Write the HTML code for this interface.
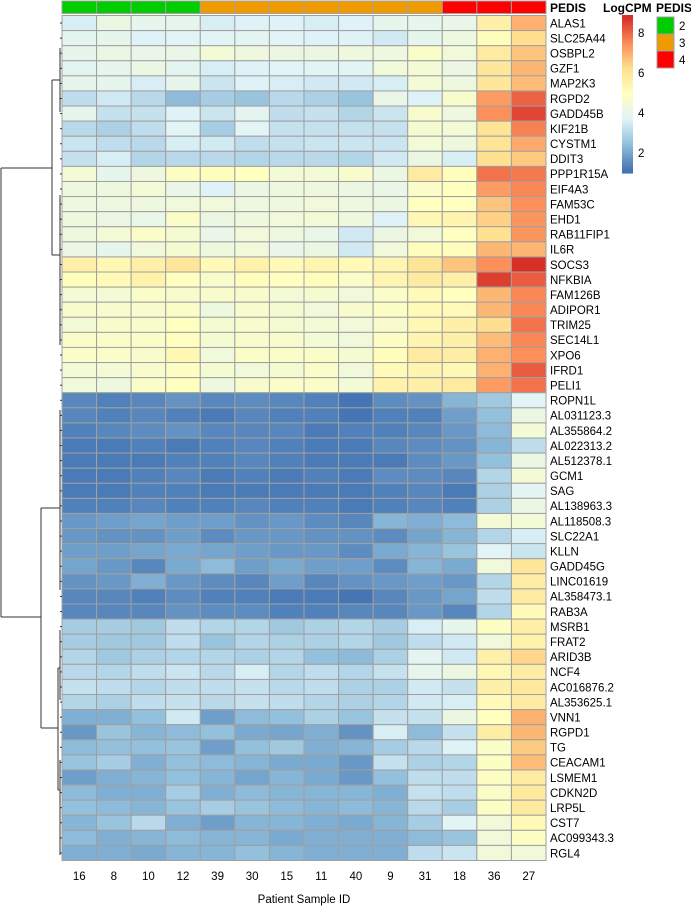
<!DOCTYPE html>
<html><head><meta charset="utf-8"><style>
body{margin:0;background:#fff;}
svg{display:block;font-family:"Liberation Sans",sans-serif;}
</style></head><body>
<svg id="chart" width="691" height="918" xmlns="http://www.w3.org/2000/svg"></svg>
<script>
const samples=["16","8","10","12","39","30","15","11","40","9","31","18","36","27"];
const pedis=[2,2,2,2,3,3,3,3,3,3,3,4,4,4];
const genes=["ALAS1","SLC25A44","OSBPL2","GZF1","MAP2K3","RGPD2","GADD45B","KIF21B","CYSTM1","DDIT3","PPP1R15A","EIF4A3","FAM53C","EHD1","RAB11FIP1","IL6R","SOCS3","NFKBIA","FAM126B","ADIPOR1","TRIM25","SEC14L1","XPO6","IFRD1","PELI1","ROPN1L","AL031123.3","AL355864.2","AL022313.2","AL512378.1","GCM1","SAG","AL138963.3","AL118508.3","SLC22A1","KLLN","GADD45G","LINC01619","AL358473.1","RAB3A","MSRB1","FRAT2","ARID3B","NCF4","AC016876.2","AL353625.1","VNN1","RGPD1","TG","CEACAM1","LSMEM1","CDKN2D","LRP5L","CST7","AC099343.3","RGL4"];
const values=[
[3.6,4.2,4.0,4.0,3.6,3.7,3.7,3.6,3.7,4.0,4.0,4.1,5.6,7.0],
[3.9,4.0,3.7,3.8,3.8,3.9,3.8,3.7,3.7,3.5,4.0,4.3,5.1,6.3],
[4.0,4.2,4.1,4.1,4.5,4.3,4.2,4.2,4.3,4.3,4.8,4.4,5.8,6.7],
[3.9,4.0,4.2,3.9,3.6,3.7,3.8,3.8,3.8,4.4,4.5,4.2,6.0,6.9],
[4.0,4.0,3.6,4.0,3.4,3.7,3.6,3.5,3.5,3.6,4.5,4.3,6.0,6.8],
[3.2,3.5,3.1,2.4,2.8,2.6,3.1,2.9,2.6,4.1,3.7,4.7,7.3,8.1],
[4.0,3.3,3.3,3.7,3.4,3.9,3.2,3.3,3.0,3.4,4.7,4.3,7.5,8.5],
[3.1,2.9,3.2,3.8,2.8,3.8,3.3,3.3,3.3,3.3,4.6,4.5,6.1,7.7],
[3.4,3.2,3.1,3.6,3.5,3.2,3.3,3.4,3.4,3.4,4.5,4.3,6.1,7.1],
[3.3,3.6,3.0,3.1,3.1,3.0,3.1,3.1,3.0,3.5,4.2,3.6,6.2,6.6],
[4.5,4.0,4.3,4.9,5.1,5.0,4.5,4.5,4.7,4.2,5.8,5.1,7.9,7.8],
[4.3,4.3,4.5,4.1,3.7,4.2,4.3,4.3,4.2,4.1,4.8,5.0,7.3,7.6],
[4.3,4.3,4.3,4.4,4.4,4.3,4.3,4.4,4.3,4.2,5.0,5.0,6.7,7.5],
[4.3,4.2,4.1,4.8,4.2,4.3,4.4,4.5,4.3,3.7,5.3,5.4,6.5,7.4],
[4.3,4.5,4.8,4.6,4.1,4.4,4.3,4.1,3.5,4.2,4.4,5.0,6.2,7.4],
[4.2,4.0,4.4,4.6,4.3,4.4,4.1,4.2,3.5,4.4,5.1,5.1,6.9,6.9],
[5.6,5.3,5.6,6.0,5.2,5.5,5.2,5.4,5.2,5.4,6.1,6.7,7.5,8.8],
[5.1,5.2,5.5,5.0,4.7,5.1,5.0,5.1,4.8,5.4,5.8,5.6,8.6,8.2],
[4.5,4.5,4.8,4.7,4.7,4.7,4.5,4.6,4.4,4.8,5.2,5.0,6.9,7.6],
[4.7,4.7,4.7,4.8,4.3,4.7,4.6,4.4,4.7,4.9,5.2,5.2,6.9,7.6],
[4.5,4.7,4.7,5.0,4.6,4.7,4.6,4.5,4.4,4.7,5.3,5.6,6.3,7.9],
[4.8,4.8,4.8,5.0,4.6,4.7,4.7,4.5,4.4,4.9,5.4,5.6,6.8,7.6],
[4.8,4.8,4.7,5.3,4.4,4.8,4.8,4.8,4.6,5.1,5.8,5.7,7.0,7.5],
[4.5,4.5,4.7,4.9,4.6,4.4,4.6,4.8,4.4,5.2,5.4,5.3,7.0,8.2],
[4.4,4.3,4.8,5.0,4.3,4.7,4.8,4.8,4.5,5.5,5.6,5.8,7.3,7.9],
[1.5,1.4,1.5,1.7,1.5,1.6,1.5,1.4,1.2,1.6,1.7,2.3,2.7,3.8],
[1.5,1.4,1.5,1.4,1.3,1.5,1.4,1.4,1.2,1.4,1.4,1.9,2.5,4.2],
[1.4,1.5,1.6,1.7,1.5,1.5,1.5,1.3,1.4,1.4,1.5,1.8,2.4,4.5],
[1.3,1.3,1.4,1.3,1.4,1.5,1.4,1.3,1.3,1.5,1.6,1.7,2.3,3.2],
[1.3,1.3,1.3,1.4,1.4,1.5,1.4,1.3,1.3,1.3,1.6,1.8,2.5,4.2],
[1.3,1.3,1.4,1.5,1.3,1.4,1.3,1.4,1.3,1.6,1.6,1.5,3.0,4.5],
[1.3,1.3,1.4,1.4,1.3,1.3,1.3,1.3,1.3,1.4,1.5,1.3,2.9,3.9],
[1.4,1.4,1.5,1.4,1.4,1.5,1.4,1.4,1.3,1.4,1.5,1.4,2.9,4.2],
[1.8,1.9,2.0,1.9,1.9,1.7,1.8,1.6,1.5,2.3,2.2,2.4,4.5,4.5],
[1.8,1.7,1.7,1.9,1.6,1.8,1.8,1.7,1.7,1.6,2.0,2.3,3.0,3.6],
[1.9,1.9,2.0,2.1,2.0,1.9,1.8,1.8,1.6,2.1,2.3,2.6,3.8,3.4],
[2.0,1.8,1.5,2.1,2.4,1.9,2.1,1.9,1.9,1.6,2.3,2.1,4.4,6.0],
[1.7,1.8,2.2,1.8,1.6,1.5,1.9,1.5,1.7,1.8,1.9,1.8,3.0,5.7],
[1.5,1.5,1.4,1.6,1.4,1.4,1.3,1.3,1.2,1.5,1.8,2.0,3.2,5.8],
[1.5,1.5,1.5,1.7,1.6,1.6,1.4,1.4,1.5,1.5,1.8,1.5,3.0,5.2],
[2.8,2.8,2.7,3.2,3.0,3.0,2.7,2.9,3.0,2.8,3.6,4.0,4.9,5.6],
[2.8,2.7,2.7,3.2,2.6,3.0,2.9,2.9,3.0,2.7,3.2,3.5,4.4,5.5],
[3.0,2.7,2.9,3.0,3.0,2.9,3.0,2.5,2.4,2.9,3.9,3.5,5.6,6.4],
[3.1,3.0,3.2,3.4,3.1,3.6,3.0,3.2,3.0,3.3,4.0,4.2,5.3,5.7],
[3.3,3.2,3.0,3.2,3.2,3.3,3.1,3.2,2.9,2.9,3.5,3.3,5.6,5.9],
[3.0,2.9,3.2,3.3,3.1,3.3,3.2,3.0,2.9,3.0,3.5,3.6,5.2,5.8],
[2.2,2.2,2.5,3.5,1.9,2.4,2.5,2.9,2.6,3.3,3.3,4.2,5.0,7.0],
[1.8,2.6,2.3,2.4,2.5,2.1,2.0,2.2,1.7,3.6,2.4,3.3,5.7,6.9],
[2.4,2.5,2.5,2.6,1.9,2.5,2.7,2.2,2.3,2.8,3.1,3.7,4.8,6.6],
[2.6,2.8,2.2,2.5,2.4,2.3,2.1,2.1,1.8,3.3,2.9,3.0,4.9,6.8],
[1.9,2.2,2.3,2.5,2.3,2.0,2.3,2.1,1.8,2.5,3.2,3.2,4.9,5.8],
[2.4,2.2,2.2,2.8,2.2,2.4,2.3,2.3,2.3,2.2,3.3,3.2,4.8,5.9],
[2.5,2.4,2.3,2.6,2.8,2.6,2.4,2.3,2.4,2.3,3.1,2.8,4.9,5.8],
[2.3,2.6,3.1,2.2,1.9,2.3,2.3,2.2,2.1,2.3,2.8,3.8,4.4,5.2],
[2.4,2.2,2.3,2.4,2.3,2.3,2.1,2.2,2.2,2.2,2.4,2.6,4.4,4.9],
[2.2,2.2,2.1,2.3,2.3,2.5,2.3,2.2,2.2,2.2,3.2,3.4,4.4,4.4]
];
const legendTicks=[2,4,6,8];
const pedisLevels=[2,3,4];

const svg=document.getElementById('chart');
const NS='http://www.w3.org/2000/svg';
function mk(tag,attrs,parent){const e=document.createElementNS(NS,tag);for(const k in attrs)e.setAttribute(k,attrs[k]);(parent||svg).appendChild(e);return e;}
const X0=62,X1=546,Y0=15.5,Y1=860.5;
const cw=(X1-X0)/samples.length, rh=(Y1-Y0)/genes.length;
const xPos=i=>X0+i*cw, yPos=j=>Y0+j*rh;
const VMIN=1.2,VMAX=8.8;
const stops=["#4575B4","#91BFDB","#E0F3F8","#FFFFBF","#FEE090","#FC8D59","#D73027"].map(h=>[parseInt(h.substr(1,2),16),parseInt(h.substr(3,2),16),parseInt(h.substr(5,2),16)]);
function color(v){let t=(v-VMIN)/(VMAX-VMIN);t=Math.max(0,Math.min(1,t))*(stops.length-1);const i=Math.min(stops.length-2,Math.floor(t)),f=t-i;const c=stops[i].map((a,k)=>Math.round(a+(stops[i+1][k]-a)*f));return `rgb(${c[0]},${c[1]},${c[2]})`;}
const pedisColor={2:"#00CD00",3:"#EE9A00",4:"#FF0000"};

samples.forEach((s,i)=>{
  const r=mk('rect',{x:xPos(i),y:1,width:cw,height:12.5,fill:pedisColor[pedis[i]],stroke:"#a0a0a0","stroke-width":1});
  
  
});
let t=mk('text',{x:X1+4,y:12,"font-size":12,"font-weight":"bold"});t.textContent="PEDIS";


values.forEach((row,j)=>row.forEach((v,i)=>{
  const r=mk('rect',{x:xPos(i),y:yPos(j),width:cw,height:rh,fill:color(v),stroke:"#a0a0a0","stroke-width":1});
  
  
}));
genes.forEach((g,j)=>{
  const e=mk('text',{x:X1+4,y:yPos(j)+rh/2+4.3,"font-size":11.5});e.textContent=g;
  
  
});
samples.forEach((s,i)=>{
  const e=mk('text',{x:xPos(i)+cw/2,y:880,"font-size":11.5,"text-anchor":"middle"});e.textContent=s;
  
  
});
t=mk('text',{x:(X0+X1)/2,y:903,"font-size":11.5,"text-anchor":"middle"});t.textContent="Patient Sample ID";


const LB_X=622,LB_W=11,ly=v=>33+(8-v)*20;
const lTop=ly(8.9),lBot=ly(1.0);
for(let k=0;k<80;k++){const v=8.9-(8.9-1.0)*k/80;const r=mk('rect',{x:LB_X,y:lTop+(lBot-lTop)*k/80,width:LB_W,height:(lBot-lTop)/80+0.6,fill:color(v)});
  }
t=mk('text',{x:603,y:12,"font-size":12,"font-weight":"bold"});t.textContent="LogCPM";

legendTicks.forEach(v=>{const e=mk('text',{x:LB_X+LB_W+5,y:ly(v)+4,"font-size":11.5});e.textContent=v;
  });
t=mk('text',{x:656,y:12,"font-size":12,"font-weight":"bold"});t.textContent="PEDIS";

pedisLevels.forEach((p,k)=>{
  const r=mk('rect',{x:657,y:17+k*17,width:17,height:17,fill:pedisColor[p],stroke:"#a0a0a0","stroke-width":1});
  
  const e=mk('text',{x:679,y:30+k*17,"font-size":11.5});e.textContent=p;
  
});

const dg=mk('g',{stroke:"#333","stroke-width":1,fill:"none"});

const cy=j=>yPos(j)+rh/2;
function L(x1,y1,x2,y2){mk('line',{x1,y1,x2,y2},dg);}
L(1,168,1,617);L(1,168,52,168);L(1,617,41,617);
L(52,80,52,255);L(52,80,60,80);L(52,255,60,255);
L(60,48,60,112);L(60,195,60,345);
L(41,508,41,728);L(41,508,60,508);L(41,728,58,728);
L(60,410,60,590);L(58,668,58,790);L(58,668,60,668);L(58,790,60,790);
L(60,630,60,700);L(60,760,60,855);
for(let j=0;j<genes.length;j++){L(60,cy(j),62,cy(j));}
</script>
</body></html>
